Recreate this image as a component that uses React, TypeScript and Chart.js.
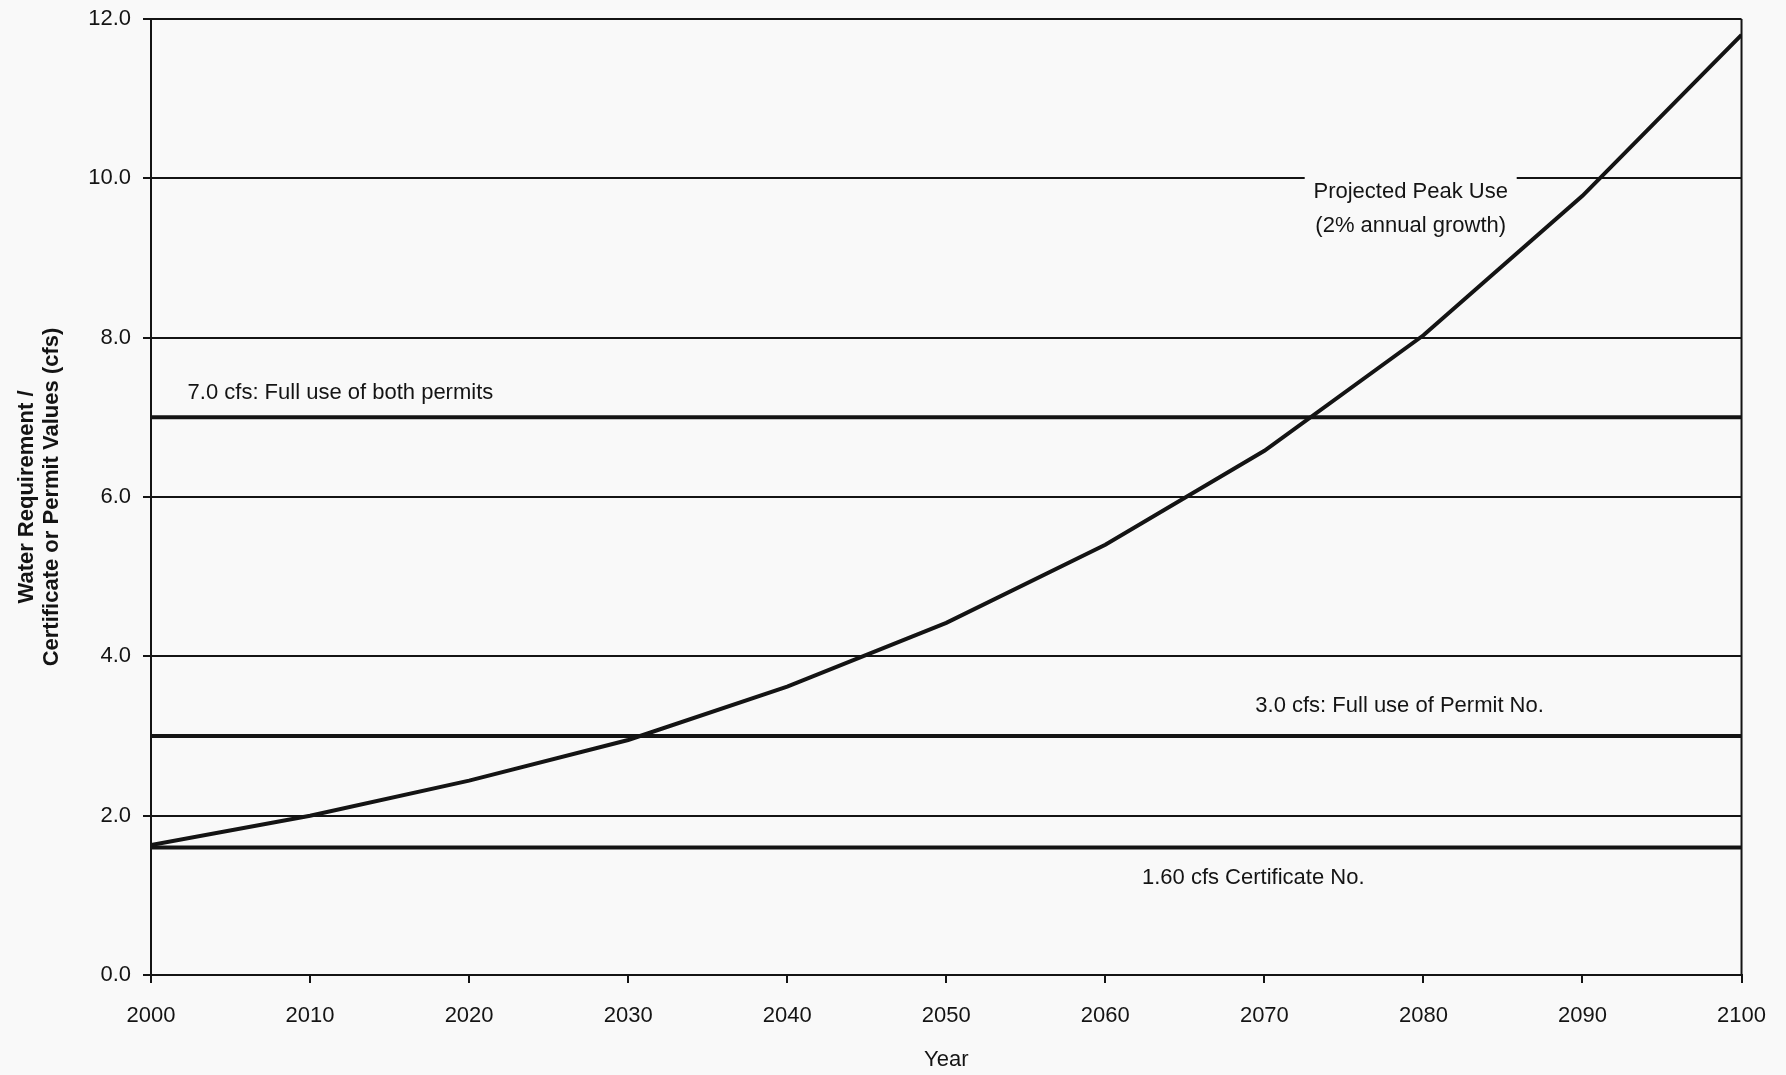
import React, { useEffect, useRef } from "react";
import { Chart, registerables } from "chart.js";

Chart.register(...registerables);

// ---- data ----
const years = [2000, 2010, 2020, 2030, 2040, 2050, 2060, 2070, 2080, 2090, 2100];
const peakUse = [1.63, 2.0, 2.44, 2.95, 3.62, 4.42, 5.4, 6.58, 8.03, 9.78, 11.8];
const certificateValue = 1.6;
const permitValue = 3.0;
const bothPermitsValue = 7.0;
const yMin = 0;
const yMax = 12;
const yStep = 2;
const xMin = 2000;
const xMax = 2100;
const xStep = 10;

const yTitleLines = ["Water Requirement /", "Certificate or Permit Values (cfs)"];
const xTitle = "Year";
const labelBoth = "7.0 cfs: Full use of both permits";
const labelPermit = "3.0 cfs: Full use of Permit No.";
const labelCert = "1.60 cfs Certificate No.";
const labelPeak = ["Projected Peak Use", "(2% annual growth)"];

const FONT = "'Liberation Sans', Arial, Helvetica, sans-serif";
const BG = "#f9f9f9";
const INK = "#141414";

const annotatePlugin = {
  id: "annotate",
  beforeDatasetsDraw(chart: any) {
    const { ctx, scales } = chart;
    const x = scales.x;
    const y = scales.y;
    ctx.save();
    // background box behind the "Projected Peak Use" label, hiding the gridline
    const cx = x.getPixelForValue(2079.2);
    const gy = y.getPixelForValue(10);
    ctx.fillStyle = BG;
    ctx.fillRect(cx - 106, gy - 6, 212, 12);
    ctx.restore();
  },
  afterDatasetsDraw(chart: any) {
    const { ctx, chartArea, scales } = chart;
    const x = scales.x;
    const y = scales.y;
    ctx.save();
    // right border
    ctx.strokeStyle = INK;
    ctx.lineWidth = 2;
    ctx.beginPath();
    ctx.moveTo(chartArea.right, chartArea.top);
    ctx.lineTo(chartArea.right, chartArea.bottom);
    ctx.stroke();

    ctx.fillStyle = INK;
    ctx.font = `22px ${FONT}`;
    ctx.textBaseline = "middle";

    ctx.textAlign = "left";
    ctx.fillText(labelBoth, x.getPixelForValue(2002.3), y.getPixelForValue(bothPermitsValue) - 24);

    ctx.textAlign = "center";
    ctx.fillText(labelPermit, x.getPixelForValue(2078.5), y.getPixelForValue(permitValue) - 30);
    ctx.fillText(labelCert, x.getPixelForValue(2069.3), y.getPixelForValue(certificateValue) + 30);

    const cx = x.getPixelForValue(2079.2);
    const gy = y.getPixelForValue(10);
    ctx.fillText(labelPeak[0], cx, gy + 14);
    ctx.fillText(labelPeak[1], cx, gy + 48);
    ctx.restore();
  },
};

export default function App() {
  const canvasRef = useRef<HTMLCanvasElement | null>(null);

  useEffect(() => {
    document.body.style.margin = "0";
    document.body.style.background = BG;
    const canvas = canvasRef.current;
    if (!canvas) return;

    const flat = (v: number) => [
      { x: xMin, y: v },
      { x: xMax, y: v },
    ];

    const chart = new Chart(canvas, {
      type: "line",
      data: {
        datasets: [
          {
            label: "Projected Peak Use",
            data: years.map((yr, i) => ({ x: yr, y: peakUse[i] })),
            borderColor: INK,
            borderWidth: 4,
            pointRadius: 0,
            tension: 0,
            fill: false,
          },
          {
            label: "both permits",
            data: flat(bothPermitsValue),
            borderColor: INK,
            borderWidth: 4,
            pointRadius: 0,
            fill: false,
          },
          {
            label: "permit",
            data: flat(permitValue),
            borderColor: INK,
            borderWidth: 4,
            pointRadius: 0,
            fill: false,
          },
          {
            label: "certificate",
            data: flat(certificateValue),
            borderColor: INK,
            borderWidth: 4,
            pointRadius: 0,
            fill: false,
          },
        ],
      },
      options: {
        responsive: false,
        animation: false,
        devicePixelRatio: 1,
        layout: { padding: { top: 19, right: 44, left: 0, bottom: 0 } },
        plugins: {
          legend: { display: false },
          tooltip: { enabled: false },
        },
        scales: {
          x: {
            type: "linear",
            min: xMin,
            max: xMax,
            afterFit: (s: any) => {
              s.height = 100;
            },
            ticks: {
              stepSize: xStep,
              color: INK,
              font: { family: FONT, size: 22 },
              padding: 20,
              maxRotation: 0,
              callback: (v: any) => String(v),
            },
            grid: {
              display: true,
              drawOnChartArea: false,
              drawTicks: true,
              tickLength: 8,
              color: INK,
              lineWidth: 2,
            },
            border: { display: true, color: INK, width: 2 },
            title: {
              display: true,
              text: xTitle,
              color: INK,
              font: { family: FONT, size: 22 },
              padding: { top: 4, bottom: 2 },
            },
          },
          y: {
            type: "linear",
            min: yMin,
            max: yMax,
            afterFit: (s: any) => {
              s.width = 151;
              s.paddingTop = 0;
              s.paddingBottom = 0;
            },
            ticks: {
              stepSize: yStep,
              color: INK,
              font: { family: FONT, size: 22 },
              padding: 12,
              callback: (v: any) => Number(v).toFixed(1),
            },
            grid: {
              display: true,
              drawOnChartArea: true,
              drawTicks: true,
              tickLength: 8,
              color: INK,
              lineWidth: 2,
            },
            border: { display: true, color: INK, width: 2 },
            title: {
              display: true,
              text: yTitleLines,
              color: INK,
              font: { family: FONT, size: 22, weight: "bold", lineHeight: 1.15 },
              padding: { top: 14, bottom: 0 },
            },
          },
        },
      },
      plugins: [annotatePlugin],
    } as any);

    return () => chart.destroy();
  }, []);

  return (
    <div style={{ width: 1786, height: 1075, background: BG }}>
      <canvas ref={canvasRef} width={1786} height={1075} style={{ width: 1786, height: 1075, display: "block" }} />
    </div>
  );
}
